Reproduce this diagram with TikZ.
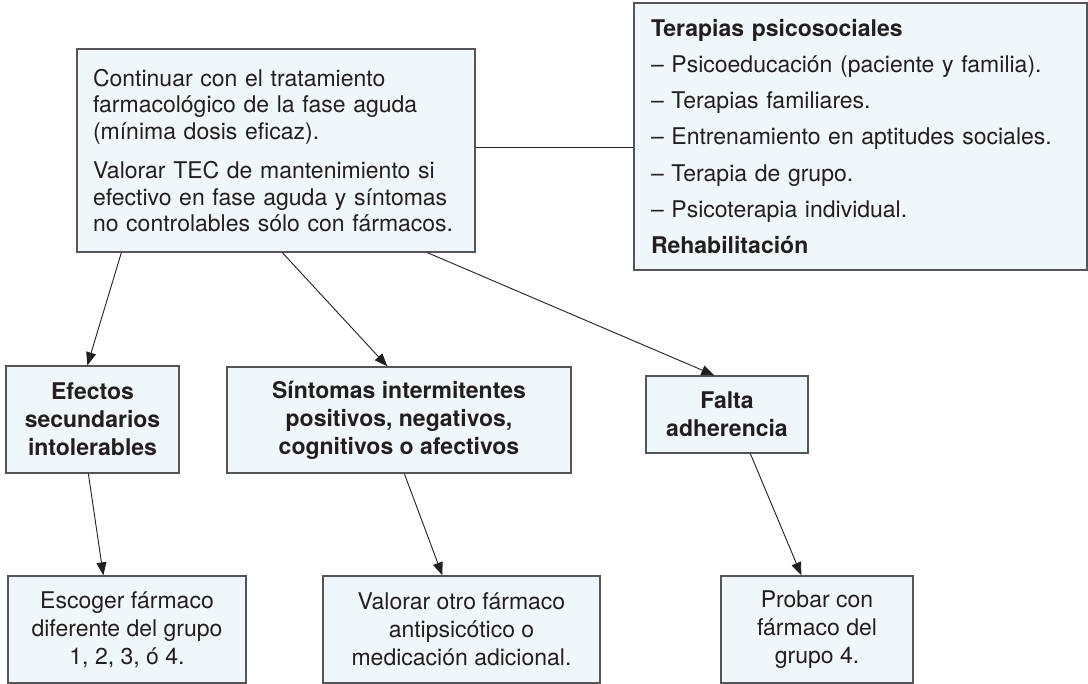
\documentclass[tikz,border=0pt]{standalone}
\usepackage{fontspec}
\setmainfont{TeX Gyre Heros}
\usetikzlibrary{arrows.meta}
\definecolor{boxfill}{RGB}{239,247,251}
\definecolor{boxline}{RGB}{85,85,85}
\definecolor{ink}{RGB}{35,31,32}
\tikzset{
  box/.style={draw=boxline, line width=1.3pt, fill=boxfill, text=ink, inner sep=0pt, anchor=center},
  txt/.style={font=\fontsize{23}{26.7}\selectfont},
  btxt/.style={font=\fontsize{23}{28}\selectfont\bfseries, align=center},
  ctxt/.style={font=\fontsize{23}{28}\selectfont, align=center},
  conn/.style={draw=ink, line width=0.9pt, -{Triangle[length=13pt,width=10pt]}},
  plain/.style={draw=ink, line width=0.9pt}
}
\begin{document}
\begin{tikzpicture}[x=1pt,y=-1pt]
\useasboundingbox (0,0) rectangle (1088,684);
% top boxes
\node[box, txt, minimum width=398pt, minimum height=203pt, text width=366pt, align=left] (main) at (276,150.5)
  {Continuar con el tratamiento\\ farmacológico de la fase aguda\\ (mínima dosis eficaz).\\[12.3pt]
   Valorar TEC de mantenimiento si\\ efectivo en fase aguda y síntomas\\ no controlables sólo con fármacos.};
\node[box, font=\fontsize{23}{36.2}\selectfont, minimum width=453pt, minimum height=267pt, text width=419pt, align=left] (ter) at (860.5,136.5)
  {\textbf{Terapias psicosociales}\\
   – Psicoeducación (paciente y familia).\\
   – Terapias familiares.\\
   – Entrenamiento en aptitudes sociales.\\
   – Terapia de grupo.\\
   – Psicoterapia individual.\\
   \textbf{Rehabilitación}};
% middle row
\node[box, btxt, minimum width=173pt, minimum height=107pt] (efe) at (92.5,419.5)
  {Efectos\\secundarios\\intolerables};
\node[box, btxt, minimum width=344pt, minimum height=106pt] (sin) at (399,420)
  {Síntomas intermitentes\\positivos, negativos,\\cognitivos o afectivos};
\node[box, btxt, minimum width=162pt, minimum height=77pt] (fal) at (727,414.5)
  {Falta\\adherencia};
% bottom row
\node[box, ctxt, minimum width=238pt, minimum height=107pt] (esc) at (127,629.5)
  {Escoger fármaco\\diferente del grupo\\1, 2, 3, ó 4.};
\node[box, ctxt, minimum width=277pt, minimum height=107pt] (val) at (461.5,629.5)
  {Valorar otro fármaco\\antipsicótico o\\medicación adicional.};
\node[box, ctxt, minimum width=192pt, minimum height=107pt] (pro) at (817,629.5)
  {Probar con\\fármaco del\\grupo 4.};
% connectors
\draw[plain] ([yshift=3.5pt]main.east) -- ([yshift=3.5pt]main.east -| ter.west);
\draw[conn] ([xshift=45pt]main.south west) -- ([xshift=82pt]efe.north west);
\draw[conn] ([xshift=206pt]main.south west) -- ([xshift=161pt]sin.north west);
\draw[conn] ([xshift=351pt]main.south west) -- ([xshift=69pt]fal.north west);
\draw[conn] ([xshift=83pt]efe.south west) -- ([xshift=96pt]esc.north west);
\draw[conn] ([xshift=178pt]sin.south west) -- ([xshift=120pt]val.north west);
\draw[conn] ([xshift=105pt]fal.south west) -- ([xshift=81pt]pro.north west);
\end{tikzpicture}
\end{document}
